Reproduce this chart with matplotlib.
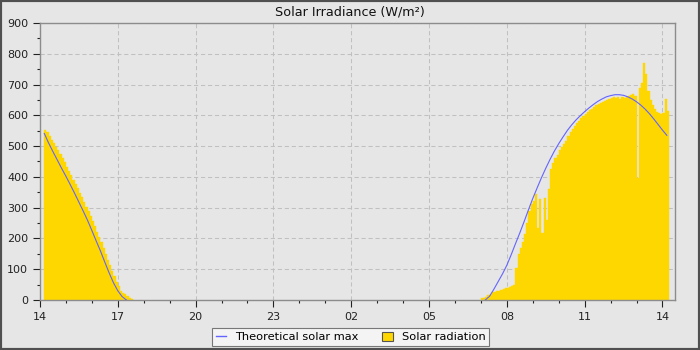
import matplotlib
matplotlib.use("Agg")
import matplotlib.pyplot as plt
import matplotlib.dates as mdates
from matplotlib.lines import Line2D
from matplotlib.patches import Patch, Rectangle
import pandas as pd

# 5-minute solar radiation readings (W/m2)
rad_start_pm = "2024-06-01 14:10"
rad_pm = [552, 545, 533, 520, 510, 498, 486, 473, 460, 447, 433, 420, 405, 391,
          378, 364, 349, 333, 318, 303, 288, 272, 256, 240, 222, 205, 187, 168,
          150, 131, 113, 95, 78, 60, 44, 30, 22, 18, 12, 7, 3]
rad_start_am = "2024-06-02 07:00"
rad_am = [5, 8, 10, 15, 20, 25, 27, 30, 30, 33, 35, 38, 40, 42, 45, 48,
          105, 150, 168, 190, 215, 250, 290, 312, 320, 345, 234, 328, 217, 331,
          261, 360, 425, 445, 460, 472, 488, 498, 508, 518, 532, 547, 556, 566,
          575, 583, 590, 598, 605, 612, 618, 622, 628, 632, 637, 640, 643, 646,
          650, 653, 655, 660, 655, 660, 652, 658, 655, 658, 662, 665, 668, 664,
          395, 690, 706, 770, 735, 680, 650, 632, 620, 610, 606, 605, 606, 652, 615]

# theoretical clear-sky maximum, 10-minute points
theo_start_pm = "2024-06-01 14:10"
theo_pm = [541, 510, 482, 455, 428, 402, 375, 347, 318, 289, 259, 226, 192,
           159, 123, 88, 56, 30, 11, 0]
theo_start_am = "2024-06-02 07:10"
theo_am = [0, 12, 35, 60, 85, 113, 147, 183, 218, 255, 293, 330, 364, 397,
           428, 457, 484, 508, 530, 551, 569, 585, 599, 612, 624, 635, 645,
           653, 660, 664, 667, 667, 665, 660, 653, 644, 633, 620, 605, 588,
           570, 552, 535]

BG = "#e6e6e6"
GOLD = "#ffd700"
BLUE = "#6464ff"

fig = plt.figure(figsize=(7, 3.5), dpi=100, facecolor=BG)
ax = fig.add_axes([0.0571, 0.1429, 0.9072, 0.7914], facecolor=BG)

w = pd.Timedelta(minutes=5) / pd.Timedelta(days=1)
for start, vals in [(rad_start_pm, rad_pm), (rad_start_am, rad_am)]:
    t = pd.date_range(start, periods=len(vals), freq="5min")
    ax.bar(mdates.date2num(t), vals, width=w, align="edge", color=GOLD,
           edgecolor=GOLD, linewidth=0.3, zorder=2)

for start, vals in [(theo_start_pm, theo_pm), (theo_start_am, theo_am)]:
    t = pd.date_range(start, periods=len(vals), freq="10min")
    ax.plot(mdates.date2num(t), vals, color=BLUE, lw=0.8, zorder=3)

ax.set_xlim(mdates.date2num(pd.Timestamp("2024-06-01 14:00")),
            mdates.date2num(pd.Timestamp("2024-06-02 14:29")))
ax.set_ylim(0, 900)
ax.xaxis.set_major_locator(mdates.HourLocator(byhour=[2, 5, 8, 11, 14, 17, 20, 23]))
ax.xaxis.set_minor_locator(mdates.HourLocator())
ax.xaxis.set_major_formatter(mdates.DateFormatter("%H"))
ax.set_yticks(range(0, 901, 100))
ax.set_yticks(range(50, 900, 100), minor=True)

ax.tick_params(which="major", length=5, width=0.8, colors="#222222", labelsize=8)
ax.tick_params(which="minor", length=2.5, width=0.8, colors="#222222")
for s in ax.spines.values():
    s.set_color("#8c8c8c")
    s.set_linewidth(1)
ax.grid(True, which="major", color="#c0c0c0", lw=0.75, dashes=(4, 2.7), zorder=1)
ax.set_axisbelow(True)

fig.text(0.5, 0.966, "Solar Irradiance (W/m²)", fontsize=9.2, ha="center",
         va="center", color="#111111")

handles = [Line2D([0], [0], color=BLUE, lw=1),
           Patch(facecolor=GOLD, edgecolor="#555555", linewidth=0.8)]
leg = fig.legend(handles, ["Theoretical solar max", "Solar radiation"],
                 loc="center", bbox_to_anchor=(0.501, 0.037), ncol=2,
                 fontsize=8.2, frameon=True, fancybox=False, framealpha=1,
                 facecolor="#f4f4f4", edgecolor="#777777", handlelength=0.9,
                 handleheight=0.8, columnspacing=2.1, borderpad=0.3,
                 handletextpad=0.8)
leg.get_frame().set_linewidth(0.8)

fig.patches.append(Rectangle((0, 0), 1, 1, transform=fig.transFigure,
                             fill=False, edgecolor="#505050", linewidth=3))

fig.savefig("out.png", dpi=100, facecolor=BG)
